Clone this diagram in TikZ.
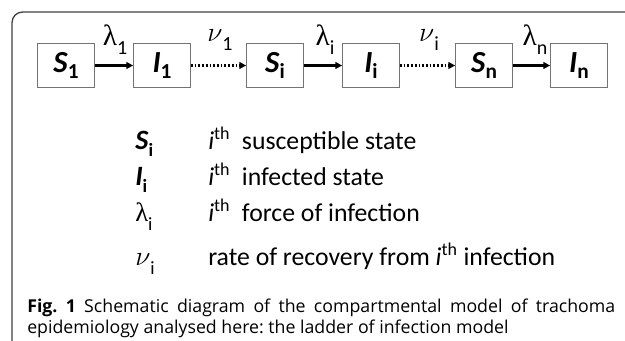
\documentclass[tikz,border=0pt]{standalone}
\usepackage{fontspec}
\setmainfont{Carlito}
\newfontfamily\capfont{Open Sans}
\newfontfamily\grk{Liberation Serif}
\usetikzlibrary{arrows.meta}
\newcommand\boxlab[2]{\textbf{\textit{#1}}\raisebox{-0.22em}{\fontsize{16}{16}\selectfont\bfseries #2}}
\newcommand\lsub[1]{\raisebox{-0.3em}{\fontsize{15}{15}\selectfont #1}}
\newcommand\mynu{\(\nu\)}
\begin{document}
\frenchspacing
\begin{tikzpicture}[x=0.75pt,y=-0.75pt,
  statebox/.style={draw=black!55, line width=0.8pt, minimum width=42.5pt, minimum height=33.5pt, inner sep=0pt, font=\fontsize{23}{26}\selectfont},
  solidarr/.style={line width=1.6pt, -{Triangle[length=5pt,width=5pt]}},
  dotarr/.style={line width=1.6pt, dash pattern=on 1.3pt off 1.5pt, -{Triangle[length=5pt,width=5pt]}},
  rate/.style={font=\fontsize{22}{24}\selectfont, inner sep=0pt},
  legsym/.style={anchor=base west, inner sep=0pt, font=\fontsize{21}{24}\selectfont},
  legtxt/.style={anchor=base west, inner sep=0pt, font=\fontsize{19.3}{22}\selectfont},
  captxt/.style={anchor=base west, inner sep=0pt, font=\capfont\fontsize{13.3}{16}\selectfont}
]
\useasboundingbox (0,0) rectangle (625,341);
\draw[black!75, line width=1pt, rounded corners=8pt] (12,341) -- (12,12) -- (626,12);

\node[statebox] (s1) at (66,65.5) {\boxlab{S}{1}};
\node[statebox] (i1) at (162,65.5) {\boxlab{I}{1}};
\node[statebox] (si) at (275,65.5) {\boxlab{S}{i}};
\node[statebox] (ii) at (371,65.5) {\boxlab{I}{i}};
\node[statebox] (sn) at (484,65.5) {\boxlab{S}{n}};
\node[statebox] (in) at (579,65.5) {\boxlab{I}{n}};

\draw[solidarr] (s1) -- (i1);
\draw[dotarr] (i1) -- (si);
\draw[solidarr] (si) -- (ii);
\draw[dotarr] (ii) -- (sn);
\draw[solidarr] (sn) -- (in);

\node[rate] (l1) at (115,40) {{\grk λ}\lsub{1}};
\node[rate] (n1) at (220,40) {\mynu\lsub{1}};
\node[rate] (li) at (325,40) {{\grk λ}\lsub{i}};
\node[rate] (ni) at (429,40) {\mynu\lsub{i}};
\node[rate] (ln) at (535,40) {{\grk λ}\lsub{n}};

\node[legsym] (ks) at (135,150) {\textbf{\textit{S}}\raisebox{-0.22em}{\fontsize{14}{14}\selectfont\bfseries i}};
\node[legtxt] (ds) at (208,150) {\textit{i}\textsuperscript{th}\ \ susceptible state};
\node[legsym] (ki) at (135,186) {\textbf{\textit{I}}\raisebox{-0.22em}{\fontsize{14}{14}\selectfont\bfseries i}};
\node[legtxt] (di) at (208,186) {\textit{i}\textsuperscript{th}\ \ infected state};
\node[legsym] (kl) at (135,222) {{\grk\fontsize{20}{22}\selectfont λ}\raisebox{-0.3em}{\fontsize{14}{14}\selectfont i}};
\node[legtxt] (dl) at (208,222) {\textit{i}\textsuperscript{th}\ \ force of infection};
\node[legsym] (kn) at (135,266) {{\fontsize{20}{22}\selectfont\mynu}\raisebox{-0.3em}{\fontsize{14}{14}\selectfont i}};
\node[legtxt] (dn) at (208,266) {rate of recovery from \textit{i}\textsuperscript{th} infection};

\node[captxt] (c1) at (27,313) {\makebox[441pt][s]{\textbf{Fig. 1} Schematic diagram of the compartmental model of trachoma}};
\node[captxt] (c2) at (27,334) {epidemiology analysed here: the ladder of infection model};
\end{tikzpicture}
\end{document}
